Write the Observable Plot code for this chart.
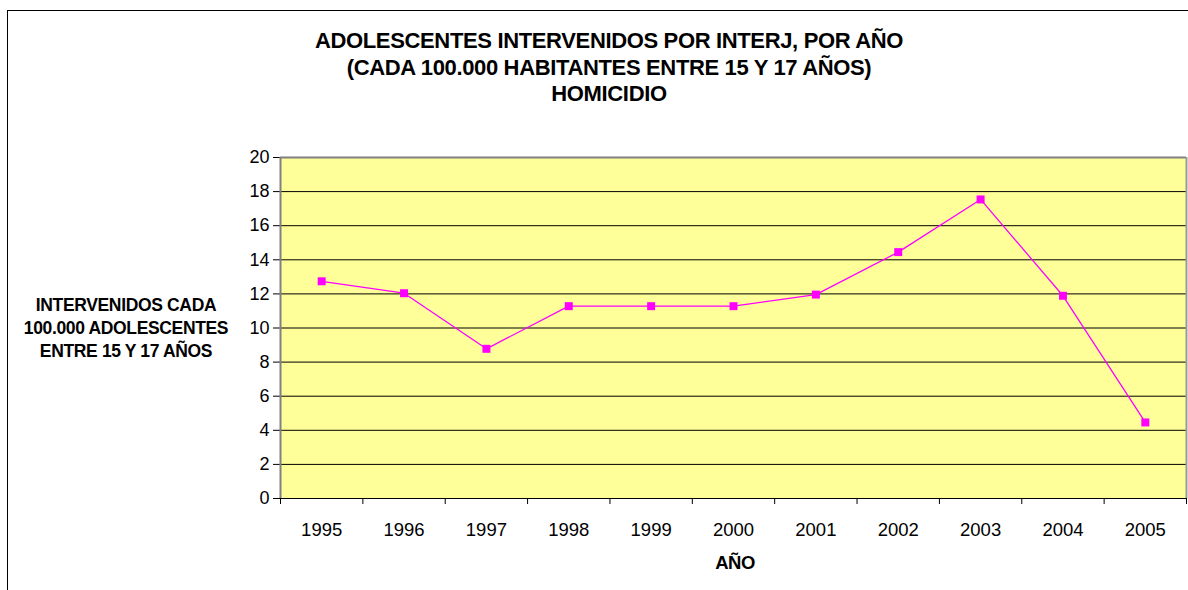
<!DOCTYPE html>
<html>
<head>
<meta charset="utf-8">
<script src="https://cdn.jsdelivr.net/npm/d3@7"></script>
<script src="https://cdn.jsdelivr.net/npm/@observablehq/plot@0.6"></script>
<style>
  html, body { margin: 0; padding: 0; background: #fff; }
  #wrap { position: relative; width: 1188px; height: 590px; overflow: hidden; font-family: "Liberation Sans", Arial, sans-serif; }
  #border { position: absolute; left: 7px; top: 10px; width: 1200px; height: 600px; border: 1px solid #000; box-sizing: border-box; }
  #chart { position: absolute; left: 0; top: 0; }
  .t { position: absolute; font-weight: bold; color: #000; white-space: nowrap; transform: translate(-50%, -50%); text-align: center; }
  #title { left: 609px; top: 68px; font-size: 22px; line-height: 26.5px; letter-spacing: -0.35px; }
  #ylab { left: 126px; top: 328px; font-size: 17.5px; line-height: 23px; letter-spacing: -0.35px; }
  #xlab { left: 735px; top: 563px; font-size: 18.5px; letter-spacing: -0.5px; }
</style>
</head>
<body>
<div id="wrap">
  <div id="border"></div>
  <div id="chart"></div>
  <div class="t" id="title"></div>
  <div class="t" id="ylab"></div>
  <div class="t" id="xlab"></div>
</div>
<script>
const titleLines = ["ADOLESCENTES INTERVENIDOS POR INTERJ, POR AÑO", "(CADA 100.000 HABITANTES ENTRE 15 Y 17 AÑOS)", "HOMICIDIO"];
const yLabelLines = ["INTERVENIDOS CADA", "100.000 ADOLESCENTES", "ENTRE 15 Y 17 AÑOS"];
const xLabel = "AÑO";
const years = [1995, 1996, 1997, 1998, 1999, 2000, 2001, 2002, 2003, 2004, 2005];
const values = [12.74, 12.04, 8.78, 11.28, 11.28, 11.28, 11.96, 14.45, 17.54, 11.89, 4.46];
const yTicks = [0, 2, 4, 6, 8, 10, 12, 14, 16, 18, 20];

document.getElementById("title").innerHTML = titleLines.join("<br>");
document.getElementById("ylab").innerHTML = yLabelLines.join("<br>");
document.getElementById("xlab").textContent = xLabel;

const data = years.map((y, i) => ({year: y, value: values[i]}));
const boundaries = years.map(y => y - 0.5).concat([years[years.length - 1] + 0.5]);
const gridTicks = yTicks.slice(1, -1);

const chart = Plot.plot({
  width: 1188,
  height: 590,
  marginLeft: 280,
  marginRight: 2,
  marginTop: 157,
  marginBottom: 92,
  style: {fontFamily: "'Liberation Sans', Arial, sans-serif", background: "transparent", color: "#000"},
  x: {domain: [boundaries[0], boundaries[boundaries.length - 1]]},
  y: {domain: [0, 20]},
  marks: [
    Plot.rect([0], {x1: boundaries[0], x2: boundaries[boundaries.length - 1], y1: 0, y2: 20, fill: "#FFFF99"}),
    Plot.ruleY(gridTicks, {stroke: "#000", strokeWidth: 1}),
    Plot.axisY({ticks: yTicks, tickSize: 7, tickPadding: 4, fontSize: 18, label: null, stroke: "#000"}),
    Plot.axisX({ticks: years, tickSize: 0, tickPadding: 24, fontSize: 18.5, label: null, tickFormat: d => String(d)}),
    Plot.axisX({ticks: boundaries, tickSize: 6, tickFormat: () => "", label: null, stroke: "#000"}),
    Plot.ruleY([20], {stroke: "#808080", strokeWidth: 2}),
    Plot.ruleX([boundaries[0]], {stroke: "#808080", strokeWidth: 2}),
    Plot.ruleX([boundaries[boundaries.length - 1]], {stroke: "#9a9a9a", strokeWidth: 2}),
    Plot.ruleY([0], {stroke: "#000", strokeWidth: 1}),
    Plot.line(data, {x: "year", y: "value", stroke: "#FF00FF", strokeWidth: 1.3}),
    Plot.dot(data, {x: "year", y: "value", symbol: "square", r: 4.5, fill: "#FF00FF", stroke: "none"})
  ]
});
document.getElementById("chart").appendChild(chart);
</script>
</body>
</html>
